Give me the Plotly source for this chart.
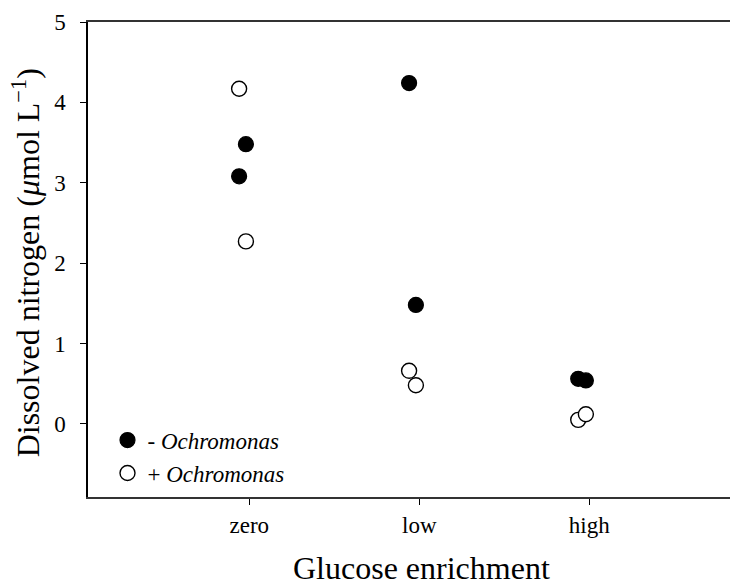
import plotly.graph_objects as go

# Category tick labels and their positions on the numeric x axis
categories = ["zero", "low", "high"]
category_pos = [1, 2, 3]

# - Ochromonas (filled circles): x = category position with small jitter
minus_x = [0.98, 0.94, 1.94, 1.98, 2.935, 2.98]
minus_y = [3.48, 3.08, 4.24, 1.48, 0.56, 0.54]

# + Ochromonas (open circles)
plus_x = [0.94, 0.98, 1.94, 1.98, 2.935, 2.98]
plus_y = [4.17, 2.27, 0.66, 0.48, 0.05, 0.12]

y_ticks = [0, 1, 2, 3, 4, 5]

font_family = "Liberation Serif"

fig = go.Figure()
fig.add_trace(go.Scatter(
    x=minus_x, y=minus_y, mode="markers",
    name="- <i>Ochromonas</i>", legendgroup="a",
    marker=dict(symbol="circle", size=15, color="black",
                line=dict(color="black", width=1.2)),
))
fig.add_trace(go.Scatter(
    x=plus_x, y=plus_y, mode="markers",
    name="+ <i>Ochromonas</i>", legendgroup="b",
    marker=dict(symbol="circle", size=15, color="white",
                line=dict(color="black", width=1.4)),
))

# page body has an 8px margin, so the figure is 730x571 placed at (8, 8)
fig.update_layout(
    width=730, height=571,
    margin=dict(l=80, r=0, t=14, b=82, autoexpand=False),
    paper_bgcolor="white", plot_bgcolor="white",
    font=dict(family=font_family, color="black", size=23),
    showlegend=True,
    legend=dict(
        x=0.03, y=0.165, xanchor="left", yanchor="top",
        bgcolor="rgba(0,0,0,0)", borderwidth=0,
        font=dict(family=font_family, size=23, color="black"),
        itemwidth=30, tracegroupgap=0,
    ),
    xaxis=dict(
        range=[0.051, 3.875],
        tickmode="array", tickvals=category_pos, ticktext=categories,
        ticks="outside", ticklen=6, tickwidth=1, tickcolor="black",
        showline=True, linecolor="#333333", linewidth=2, mirror=True,
        showgrid=False, zeroline=False, automargin=False,
        tickfont=dict(size=23), ticklabelstandoff=0,
    ),
    yaxis=dict(
        range=[-0.91, 5],
        tickmode="array", tickvals=y_ticks,
        ticks="outside", ticklen=6, tickwidth=1, tickcolor="black",
        showline=True, linecolor="black", linewidth=1.5,
        showgrid=False, zeroline=False, automargin=False,
        tickfont=dict(size=23), ticklabelstandoff=10,
    ),
    annotations=[
        dict(text="Glucose enrichment", xref="paper", yref="paper",
             x=0.513, y=-0.1495, xanchor="center", yanchor="middle",
             showarrow=False, font=dict(size=32)),
        dict(text="Dissolved nitrogen (<i>μ</i>mol L<sup>−1</sup>)",
             xref="paper", yref="paper", textangle=-90,
             x=-0.0953, y=0.492, xanchor="center", yanchor="middle",
             showarrow=False, font=dict(size=32)),
    ],
)

fig.write_html("out.html")
